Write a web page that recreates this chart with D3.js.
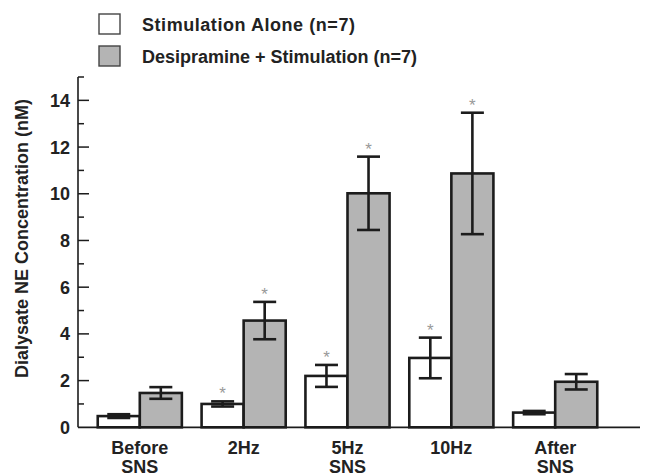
<!DOCTYPE html>
<html>
<head>
<meta charset="utf-8">
<script src="https://cdn.jsdelivr.net/npm/d3@7/dist/d3.min.js"></script>
<style>
  html, body { margin: 0; padding: 0; background: #fff; }
  svg { display: block; font-family: "Liberation Sans", Arial, Helvetica, sans-serif; }
</style>
</head>
<body>
<svg id="chart" width="646" height="475"></svg>
<script>
// ---- data ----
const categories = [["Before", "SNS"], ["2Hz"], ["5Hz", "SNS"], ["10Hz"], ["After", "SNS"]];
const seriesNames = ["Stimulation Alone (n=7)", "Desipramine + Stimulation (n=7)"];
const aloneMean = [0.48, 1.0, 2.2, 2.97, 0.63];
const aloneErr = [0.08, 0.11, 0.47, 0.87, 0.07];
const desiMean = [1.47, 4.57, 10.02, 10.87, 1.95];
const desiErr = [0.25, 0.8, 1.57, 2.6, 0.33];
const aloneSig = [false, true, true, true, false];
const desiSig = [false, true, true, true, false];
const yMajorTicks = [0, 2, 4, 6, 8, 10, 12, 14];
const yMinorTicks = [1, 3, 5, 7, 9, 11, 13, 15];
const yLabel = "Dialysate NE Concentration (nM)";

// ---- layout ----
const svg = d3.select("#chart");
const fills = ["#ffffff", "#b4b4b4"];
const ink = "#1c1c1c";

const y = d3.scaleLinear().domain([0, 15]).range([427.3, 77]);
const x = d3.scaleBand().domain(d3.range(categories.length)).range([78, 617])
  .paddingInner(0.19).paddingOuter(0.19);
const xs = d3.scaleBand().domain([0, 1]).range([0, x.bandwidth()]);

const rows = [];
categories.forEach((c, i) => {
  rows.push({ i, s: 0, v: aloneMean[i], e: aloneErr[i], sig: aloneSig[i] });
  rows.push({ i, s: 1, v: desiMean[i], e: desiErr[i], sig: desiSig[i] });
});

// bars
svg.append("g").selectAll("rect").data(rows).join("rect")
  .attr("x", d => x(d.i) + xs(d.s))
  .attr("y", d => y(d.v))
  .attr("width", xs.bandwidth())
  .attr("height", d => y(0) - y(d.v))
  .attr("fill", d => fills[d.s])
  .attr("stroke", ink)
  .attr("stroke-width", 2.6);

// error bars
const capHalf = 11.5;
const eb = svg.append("g").attr("stroke", ink).attr("stroke-width", 2.6).attr("fill", "none");
rows.forEach(d => {
  const cx = x(d.i) + xs(d.s) + xs.bandwidth() / 2;
  eb.append("line").attr("x1", cx).attr("x2", cx).attr("y1", y(d.v + d.e)).attr("y2", y(d.v - d.e));
  eb.append("line").attr("x1", cx - capHalf).attr("x2", cx + capHalf).attr("y1", y(d.v + d.e)).attr("y2", y(d.v + d.e));
  eb.append("line").attr("x1", cx - capHalf).attr("x2", cx + capHalf).attr("y1", y(d.v - d.e)).attr("y2", y(d.v - d.e));
});

// significance asterisks
svg.append("g").selectAll("text").data(rows.filter(d => d.sig)).join("text")
  .attr("x", d => x(d.i) + xs(d.s) + xs.bandwidth() / 2)
  .attr("y", d => y(d.v + d.e) - 2)
  .attr("text-anchor", "middle")
  .attr("font-size", 17)
  .attr("fill", "#999")
  .text("*");

// y axis
const yAxis = svg.append("g");
yAxis.append("line").attr("x1", 78).attr("x2", 78).attr("y1", y(15)).attr("y2", y(0))
  .attr("stroke", ink).attr("stroke-width", 1.6);
yAxis.selectAll("line.major").data(yMajorTicks.filter(t => t > 0)).join("line").attr("class", "major")
  .attr("x1", 78).attr("x2", 89).attr("y1", d => y(d)).attr("y2", d => y(d))
  .attr("stroke", ink).attr("stroke-width", 1.5);
yAxis.selectAll("line.minor").data(yMinorTicks).join("line").attr("class", "minor")
  .attr("x1", 78).attr("x2", 84).attr("y1", d => y(d)).attr("y2", d => y(d))
  .attr("stroke", ink).attr("stroke-width", 1.5);
yAxis.selectAll("text").data(yMajorTicks).join("text")
  .attr("x", 70).attr("y", d => y(d)).attr("dy", "0.36em")
  .attr("text-anchor", "end").attr("font-size", 18).attr("font-weight", "bold").attr("fill", "#222")
  .text(d => d);

// x axis line
svg.append("line").attr("x1", 78).attr("x2", 640).attr("y1", y(0)).attr("y2", y(0))
  .attr("stroke", ink).attr("stroke-width", 1.8);

// category labels
const cl = svg.append("g").attr("font-size", 18).attr("font-weight", "bold").attr("fill", "#222")
  .attr("text-anchor", "middle");
categories.forEach((lines, i) => {
  lines.forEach((t, k) => {
    cl.append("text").attr("x", x(i) + x.bandwidth() / 2).attr("y", 454 + k * 18.5).text(t);
  });
});

// y label
svg.append("text")
  .attr("transform", `translate(28, 238.5) rotate(-90)`)
  .attr("text-anchor", "middle").attr("font-size", 18).attr("font-weight", "bold").attr("fill", "#222")
  .text(yLabel);

// legend
const lg = svg.append("g");
const legendSpacing = [0.55, 0];
seriesNames.forEach((name, k) => {
  lg.append("rect").attr("x", 99).attr("y", 14 + k * 32).attr("width", 21).attr("height", 20)
    .attr("fill", fills[k]).attr("stroke", "#444").attr("stroke-width", 1.4);
  lg.append("text").attr("x", 142).attr("y", 31 + k * 32)
    .attr("font-size", 18).attr("font-weight", "bold").attr("fill", "#222")
    .attr("letter-spacing", legendSpacing[k])
    .text(name);
});
</script>
</body>
</html>
